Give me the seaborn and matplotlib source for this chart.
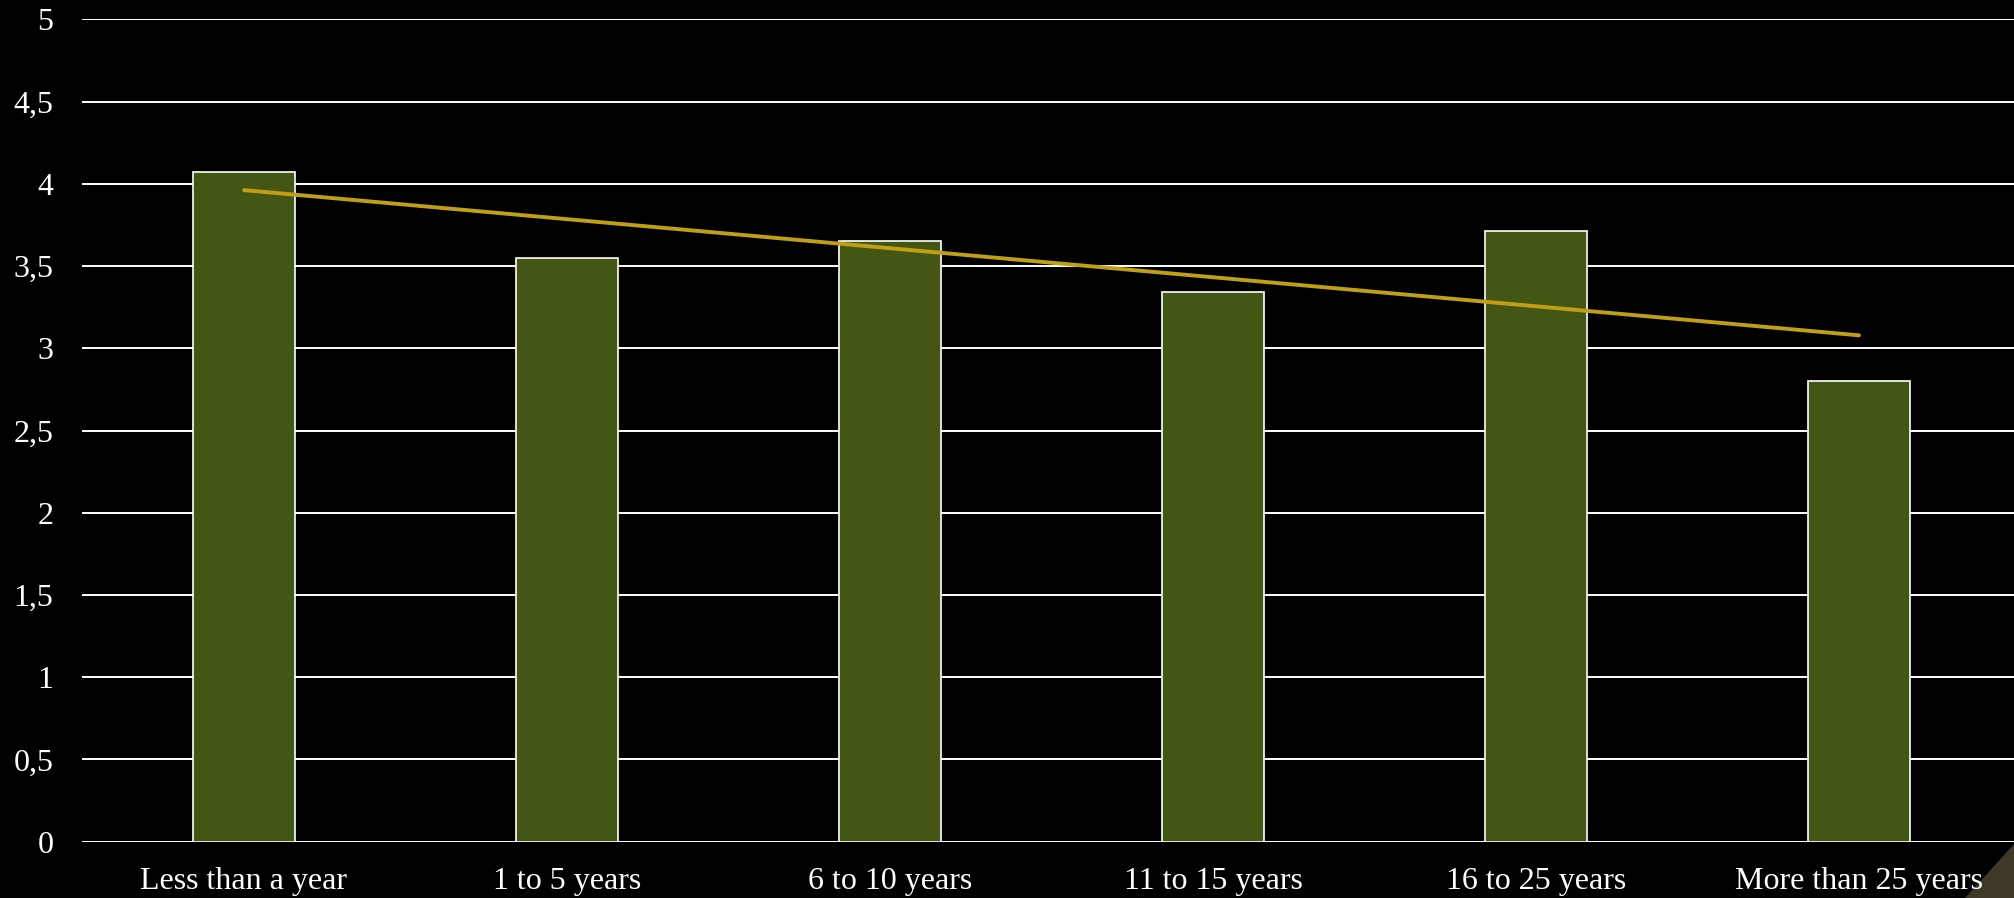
import numpy as np
import pandas as pd
import seaborn as sns
import matplotlib.pyplot as plt
from matplotlib.patches import Polygon

# data
categories = ['Less than a year', '1 to 5 years', '6 to 10 years',
              '11 to 15 years', '16 to 25 years', 'More than 25 years']
scores = [4.07, 3.55, 3.65, 3.34, 3.71, 2.80]
ytick_values = [0, 0.5, 1, 1.5, 2, 2.5, 3, 3.5, 4, 4.5, 5]
ytick_labels = ['0', '0,5', '1', '1,5', '2', '2,5', '3', '3,5', '4', '4,5', '5']

df = pd.DataFrame({'category': categories, 'score': scores})
df['pos'] = np.arange(len(df))

sns.set_theme(style='dark')
plt.rcParams['font.family'] = ['Liberation Serif', 'DejaVu Serif']

fig = plt.figure(figsize=(20.15, 8.98), dpi=100, facecolor='black')
ax = fig.add_axes([82.5 / 2015, 1 - 841.7 / 898, 1938 / 2015, (841.7 - 19.3) / 898])
ax.set_facecolor('black')

sns.barplot(data=df, x='category', y='score', color='#445614', saturation=1,
            width=0.317, edgecolor='white', linewidth=1.2, ax=ax, zorder=3)

# linear trend over the bars
sns.regplot(data=df, x='pos', y='score', scatter=False, ci=None, truncate=True,
            line_kws={'color': '#BFA015', 'linewidth': 2.8, 'zorder': 4}, ax=ax)

ax.set_xlim(-0.5, len(categories) - 0.5)
ax.set_ylim(0, 5)
ax.set_yticks(ytick_values)
ax.set_yticklabels(ytick_labels)
ax.set_xticks(range(len(categories)))
ax.set_xticklabels(categories)
ax.set_xlabel('')
ax.set_ylabel('')

ax.grid(axis='y', color='white', linewidth=1.4, zorder=0)
ax.grid(axis='x', visible=False)
ax.set_axisbelow(True)
for s in ax.spines.values():
    s.set_visible(False)
ax.tick_params(axis='y', length=0, pad=21, labelsize=23, labelcolor='white')
ax.tick_params(axis='x', length=0, pad=18, labelsize=23, labelcolor='white')

# corner decoration
fig.patches.append(Polygon([[1965 / 2015, 0], [1, 55 / 898], [1, 0]], closed=True,
                           transform=fig.transFigure, facecolor='#3E3827',
                           edgecolor='none', zorder=-1))

fig.savefig('out.png', dpi=100, facecolor='black')
